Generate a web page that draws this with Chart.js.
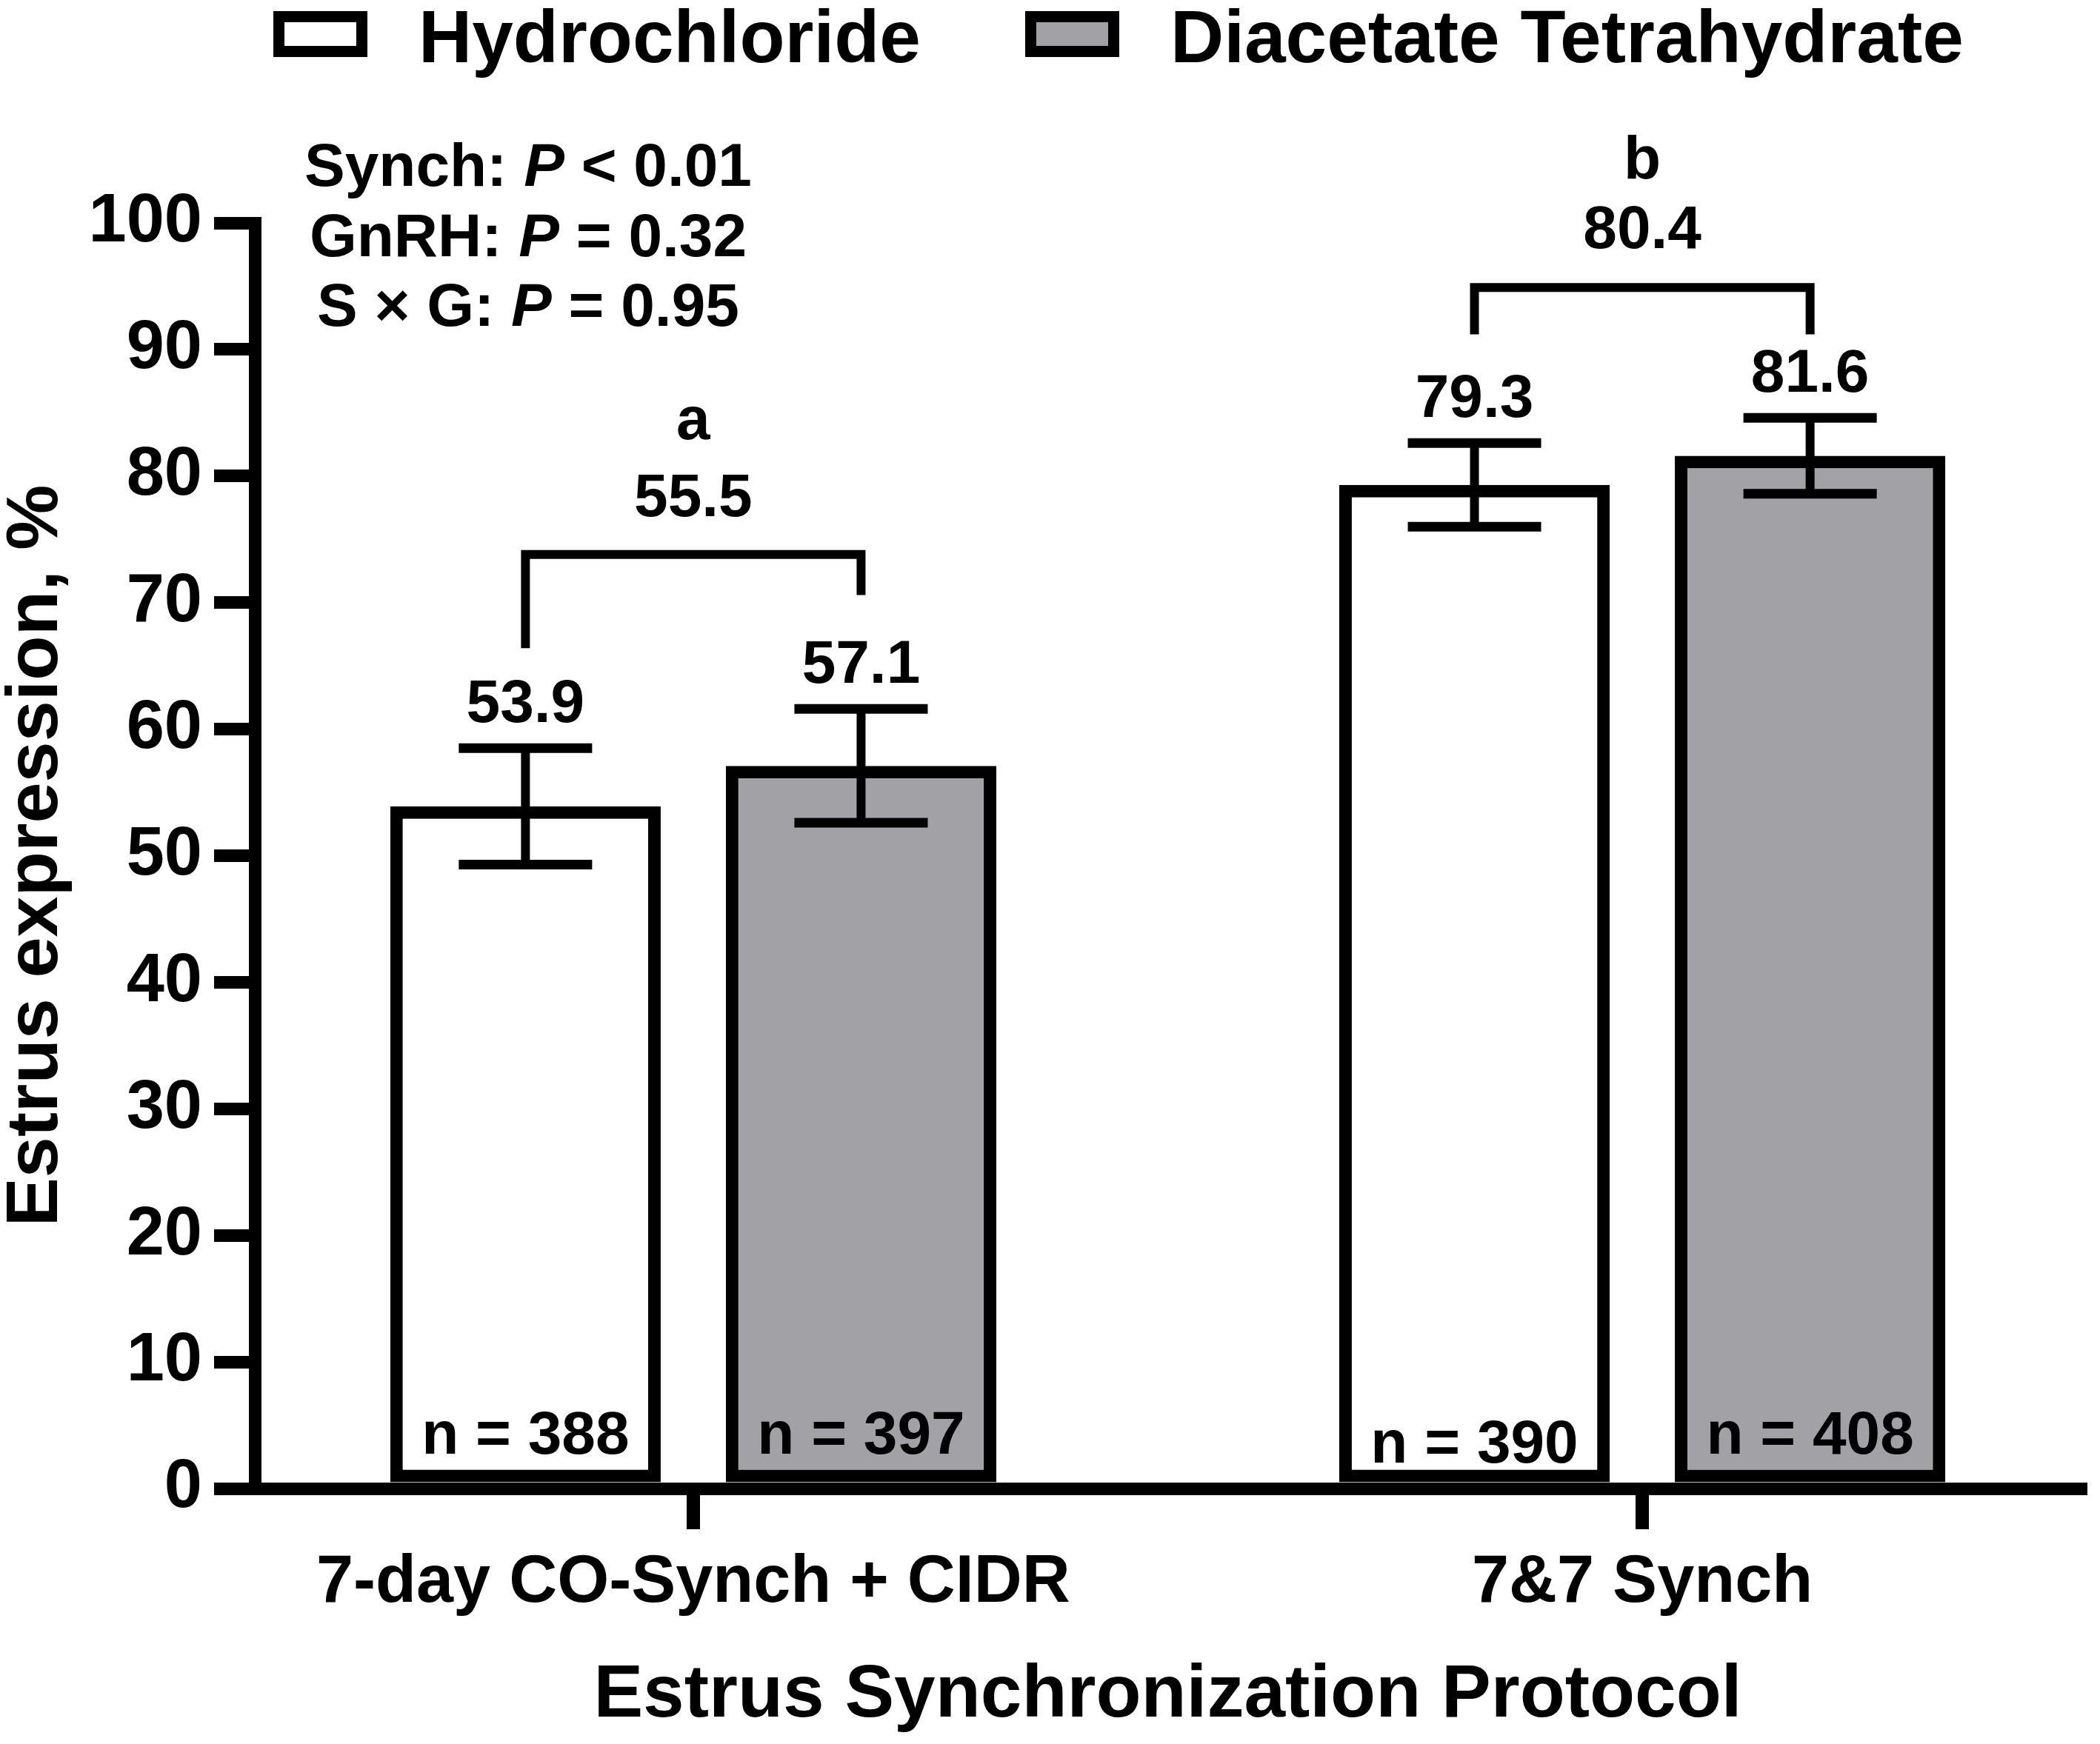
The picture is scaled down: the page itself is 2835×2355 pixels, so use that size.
<!DOCTYPE html>
<html>
<head>
<meta charset="utf-8">
<title>Estrus expression by synchronization protocol</title>
<script src="https://cdn.jsdelivr.net/npm/chart.js@4.4.1/dist/chart.umd.min.js"></script>
<style>
  html, body { margin: 0; padding: 0; background: #fff; overflow: hidden; }
  canvas { display: block; }
</style>
</head>
<body>
<canvas id="chart" width="2835" height="2355" style="width:2835px;height:2355px"></canvas>
<script>
const protocols = ["7-day CO-Synch + CIDR", "7&7 Synch"];
const treatments = ["Hydrochloride", "Diacetate Tetrahydrate"];
const hydrochloride = [53.9, 79.3];
const diacetate = [57.1, 81.6];
const hydrochlorideSE = [4.6, 3.3];
const diacetateSE = [4.5, 3.0];
const hydrochlorideN = [388, 390];
const diacetateN = [397, 408];
const protocolMeans = [55.5, 80.4];
const protocolLetters = ["a", "b"];
const statLines = [
  ["Synch: ", "P", " < 0.01"],
  ["GnRH: ", "P", " = 0.32"],
  ["S \u00d7 G: ", "P", " = 0.95"]
];

// where the annotations sit, in y-axis units
const bracketTop = [73.8, 94.9];
const bracketFeet = [[66.4, 70.6], [91.2, 91.2]];
const meanLabelAt = [76.8, 98.0];
const letterAt = [82.9, 103.5];
const nLabelAt = [[2.75, 2.05], [2.75, 2.75]];
const statsAt = {x: -0.174, y: [102.95, 97.37, 91.87]};

const FONT = '"Liberation Sans", Arial, Helvetica, sans-serif';
const black = "#000000";
const fills = ["#ffffff", "#a2a1a6"];
const values = [hydrochloride, diacetate];
const errors = [hydrochlorideSE, diacetateSE];
const counts = [hydrochlorideN, diacetateN];

Chart.defaults.font.family = FONT;
Chart.defaults.color = black;

const toPoints = vals => vals.map((v, i) => ({x: i, y: v}));

function setFont(ctx, size, italic) {
  ctx.font = (italic ? "italic " : "") + "bold " + size + "px " + FONT;
}

function label(ctx, str, x, y, size) {
  setFont(ctx, size, false);
  ctx.textAlign = "center";
  ctx.textBaseline = "alphabetic";
  ctx.fillText(str, x, y);
}

const annotations = {
  id: "annotations",
  afterDraw(chart) {
    const ctx = chart.ctx;
    const xs = chart.scales.x;
    const ys = chart.scales.y;
    ctx.save();
    ctx.fillStyle = black;
    ctx.strokeStyle = black;

    // error bars, value labels and n labels
    values.forEach((vals, d) => {
      const meta = chart.getDatasetMeta(d);
      vals.forEach((v, i) => {
        const x = meta.data[i].x;
        const top = ys.getPixelForValue(v + errors[d][i]);
        const bot = ys.getPixelForValue(v - errors[d][i]);
        ctx.lineCap = "butt";
        ctx.lineWidth = 12;
        ctx.beginPath();
        ctx.moveTo(x, top);
        ctx.lineTo(x, bot);
        ctx.stroke();
        ctx.lineWidth = 13;
        ctx.beginPath();
        ctx.moveTo(x - 90, top);
        ctx.lineTo(x + 90, top);
        ctx.moveTo(x - 90, bot);
        ctx.lineTo(x + 90, bot);
        ctx.stroke();
        label(ctx, v.toFixed(1), x, top - 35, 82);
        label(ctx, "n = " + counts[d][i], x, ys.getPixelForValue(nLabelAt[d][i]), 82);
      });
    });

    // brackets with protocol means
    protocols.forEach((p, g) => {
      const xl = chart.getDatasetMeta(0).data[g].x;
      const xr = chart.getDatasetMeta(1).data[g].x;
      const yt = ys.getPixelForValue(bracketTop[g]);
      ctx.lineWidth = 12;
      ctx.lineJoin = "miter";
      ctx.beginPath();
      ctx.moveTo(xl, ys.getPixelForValue(bracketFeet[g][0]));
      ctx.lineTo(xl, yt);
      ctx.lineTo(xr, yt);
      ctx.lineTo(xr, ys.getPixelForValue(bracketFeet[g][1]));
      ctx.stroke();
      const xm = (xl + xr) / 2;
      label(ctx, protocolMeans[g].toFixed(1), xm, ys.getPixelForValue(meanLabelAt[g]), 82);
      label(ctx, protocolLetters[g], xm, ys.getPixelForValue(letterAt[g]), 82);
    });

    // P values
    const cx = xs.getPixelForValue(statsAt.x);
    ctx.textAlign = "left";
    ctx.textBaseline = "alphabetic";
    statLines.forEach((parts, k) => {
      const widths = parts.map((s, j) => { setFont(ctx, 82, j === 1); return ctx.measureText(s).width; });
      let x = cx - widths.reduce((a, b) => a + b, 0) / 2;
      const y = ys.getPixelForValue(statsAt.y[k]);
      parts.forEach((s, j) => {
        setFont(ctx, 82, j === 1);
        ctx.fillText(s, x, y);
        x += widths[j];
      });
    });

    // legend
    const legendX = [369, 1384];
    treatments.forEach((t, d) => {
      const bx = legendX[d];
      ctx.fillStyle = fills[d];
      ctx.fillRect(bx, 15, 127, 62);
      ctx.lineWidth = 15;
      ctx.strokeRect(bx + 7.5, 22.5, 112, 47);
      ctx.fillStyle = black;
      setFont(ctx, 100, false);
      ctx.textAlign = "left";
      ctx.fillText(t, bx + 196, 84);
    });
    ctx.restore();
  }
};

const datasets = treatments.map((t, d) => ({
  label: t,
  data: toPoints(values[d]),
  backgroundColor: fills[d],
  borderColor: black,
  borderWidth: 17,
  borderSkipped: false,
  categoryPercentage: 0.7073,
  barPercentage: 0.806
}));

new Chart(document.getElementById("chart"), {
  type: "bar",
  data: {datasets: datasets},
  options: {
    responsive: false,
    devicePixelRatio: 1,
    animation: false,
    layout: {padding: {top: 301, right: 26, bottom: 0, left: 0}},
    plugins: {legend: {display: false}, tooltip: {enabled: false}},
    scales: {
      x: {
        type: "linear",
        min: -0.462,
        max: 1.462,
        offset: false,
        afterBuildTicks: s => { s.ticks = protocols.map((p, i) => ({value: i})); },
        afterFit: s => { s.height = 345; },
        grid: {offset: false, drawOnChartArea: false, drawTicks: true, tickLength: 55, lineWidth: 18, color: black},
        border: {display: true, width: 17, color: black, z: 1},
        ticks: {
          callback: v => protocols[v],
          font: {size: 90, weight: "bold"},
          color: black,
          padding: 19,
          maxRotation: 0,
          autoSkip: false
        },
        title: {
          display: true,
          text: "Estrus Synchronization Protocol",
          font: {size: 100, weight: "bold"},
          color: black,
          padding: {top: 0, bottom: 5}
        }
      },
      y: {
        min: 0,
        max: 100,
        afterFit: s => { s.width = 344; },
        grid: {drawOnChartArea: false, drawTicks: true, tickLength: 55, lineWidth: 17, color: black},
        border: {display: true, width: 17, color: black, z: 1},
        ticks: {stepSize: 10, font: {size: 92, weight: "bold"}, color: black, padding: 16},
        title: {
          display: true,
          text: "Estrus expression, %",
          font: {size: 99, weight: "bold", lineHeight: 1},
          color: black,
          padding: 0
        }
      }
    }
  },
  plugins: [annotations]
});
</script>
</body>
</html>
